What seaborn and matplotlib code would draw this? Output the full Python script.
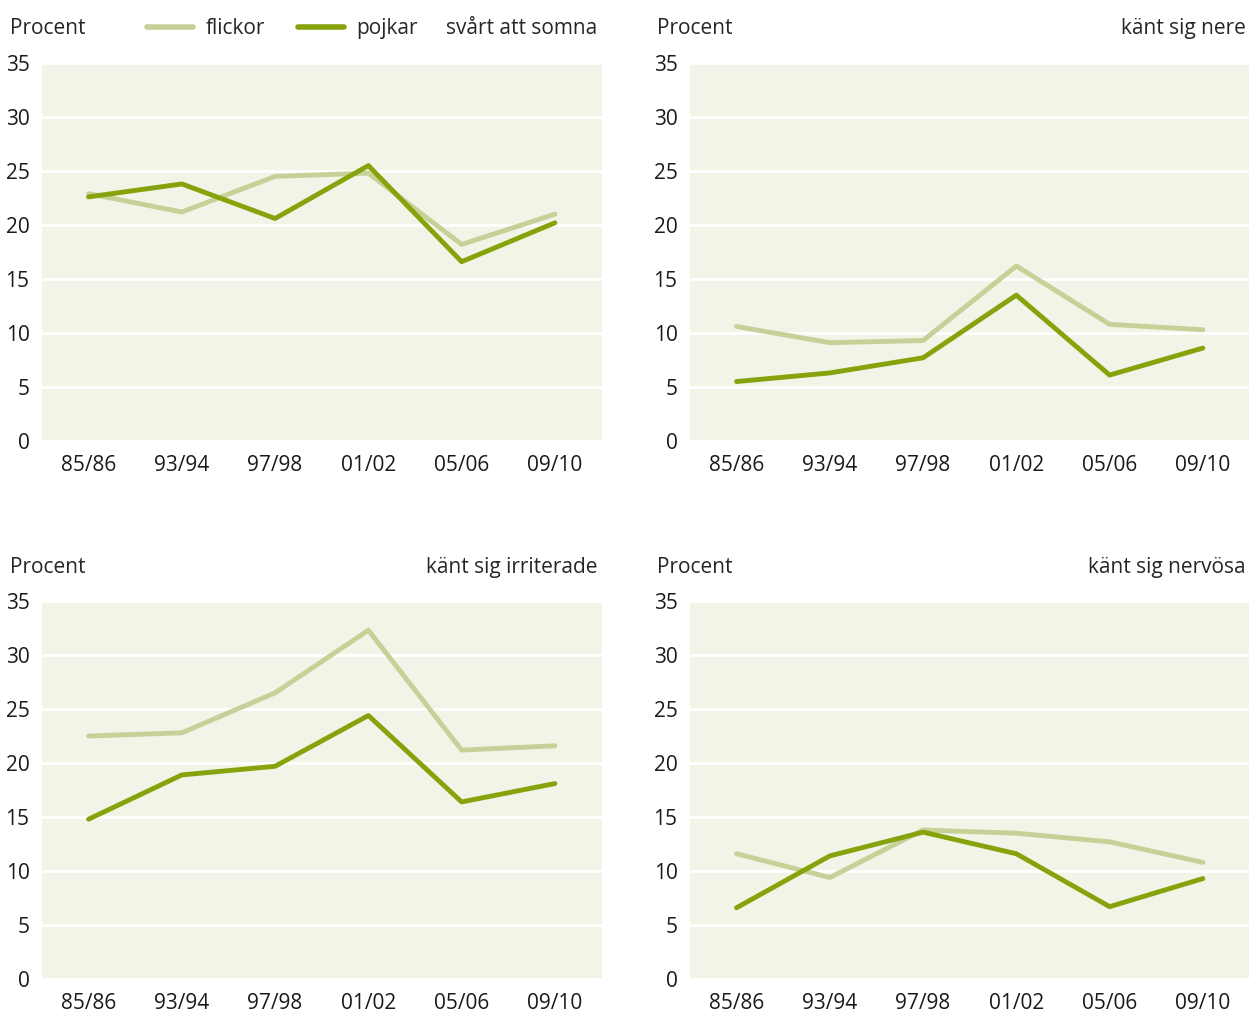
import pandas as pd
import matplotlib.pyplot as plt
import matplotlib
import seaborn as sns
from matplotlib.lines import Line2D

sns.set_style('white')
matplotlib.rcParams['font.family'] = ['Open Sans', 'DejaVu Sans']

years = ['85/86', '93/94', '97/98', '01/02', '05/06', '09/10']
titles = ['svårt att somna', 'känt sig nere', 'känt sig irriterade', 'känt sig nervösa']

flickor = [
    [22.9, 21.2, 24.5, 24.8, 18.2, 21.0],
    [10.6, 9.1, 9.3, 16.2, 10.8, 10.3],
    [22.5, 22.8, 26.5, 32.3, 21.2, 21.6],
    [11.6, 9.4, 13.8, 13.5, 12.7, 10.8],
]
pojkar = [
    [22.6, 23.8, 20.6, 25.5, 16.6, 20.2],
    [5.5, 6.3, 7.7, 13.5, 6.1, 8.6],
    [14.8, 18.9, 19.7, 24.4, 16.4, 18.1],
    [6.6, 11.4, 13.6, 11.6, 6.7, 9.3],
]

light = '#c5d196'
dark = '#86a30c'
bg = '#f2f4e8'

fig = plt.figure(figsize=(12.49, 10.16), dpi=100)
lefts = [0.0336, 0.5524, 0.0336, 0.5524]
bottoms = [0.566, 0.566, 0.0364, 0.0364]

for i in range(4):
    ax = fig.add_axes([lefts[i], bottoms[i], 0.448, 0.372])
    rows = []
    for j, y in enumerate(years):
        rows.append({'x': j, 'val': flickor[i][j], 'grupp': 'flickor'})
        rows.append({'x': j, 'val': pojkar[i][j], 'grupp': 'pojkar'})
    df = pd.DataFrame(rows)
    sns.lineplot(data=df, x='x', y='val', hue='grupp', palette={'flickor': light, 'pojkar': dark},
                 linewidth=3.5, ax=ax, legend=False)
    ax.set_facecolor(bg)
    ax.set_xlim(-0.5, 5.5)
    ax.set_ylim(0, 35)
    ax.set_yticks(range(0, 36, 5))
    ax.set_xticks(range(6))
    ax.set_xticklabels(years)
    ax.grid(axis='y', color='white', linewidth=2)
    ax.set_axisbelow(True)
    for s in ax.spines.values():
        s.set_visible(False)
    ax.tick_params(length=0, labelsize=15, colors='#1a1a1a')
    ax.tick_params(axis='y', pad=9)
    ax.tick_params(axis='x', pad=10)
    ax.set_xlabel('')
    ax.set_ylabel('')
    # header text
    ax.text(-0.058, 1.09, 'Procent', transform=ax.transAxes, fontsize=15, ha='left', va='center')
    ax.text(0.993, 1.09, titles[i], transform=ax.transAxes, fontsize=15, ha='right', va='center')

    if i == 0:
        handles = [Line2D([0], [0], color=light, lw=4, solid_capstyle='round'),
                   Line2D([0], [0], color=dark, lw=4, solid_capstyle='round')]
        ax.legend(handles, ['flickor', 'pojkar'], ncol=2, frameon=False, fontsize=15,
                  loc='center', bbox_to_anchor=(0.43, 1.09), handlelength=2.2,
                  handletextpad=0.6, columnspacing=1.6, borderaxespad=0)

plt.savefig('out.png', dpi=100)
